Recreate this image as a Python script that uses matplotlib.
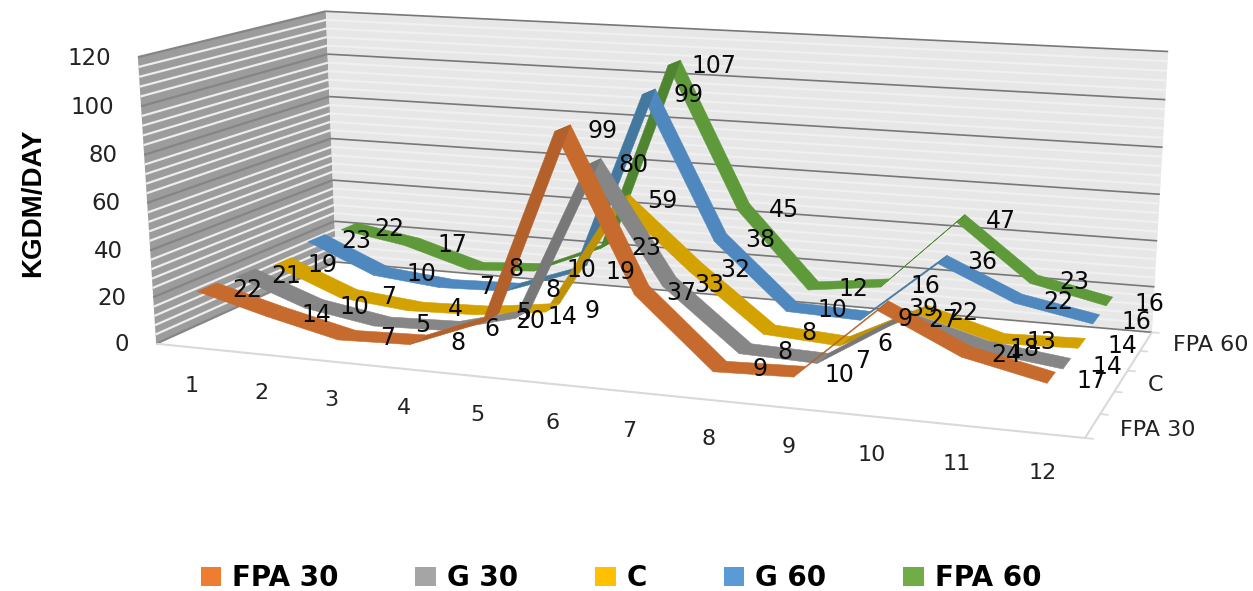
import numpy as np
import matplotlib
matplotlib.use("Agg")
import matplotlib.pyplot as plt
from matplotlib.patches import Patch
from matplotlib.transforms import Affine2D, offset_copy
from mpl_toolkits.mplot3d import Axes3D, proj3d
from mpl_toolkits.mplot3d.art3d import Poly3DCollection, Line3DCollection

months = [str(m) for m in range(1, 13)]
series_names = ["FPA 30", "G 30", "C", "G 60", "FPA 60"]
fpa30 = [22, 14, 7, 8, 20, 99, 37, 9, 10, 39, 24, 17]
g30 = [21, 10, 5, 6, 14, 80, 33, 8, 7, 27, 18, 14]
c_vals = [19, 7, 4, 5, 9, 59, 32, 8, 6, 22, 13, 14]
g60 = [23, 10, 7, 8, 19, 99, 38, 10, 9, 36, 22, 16]
fpa60 = [22, 17, 8, 10, 23, 107, 45, 12, 16, 47, 23, 16]
series_values = [fpa30, g30, c_vals, g60, fpa60]
legend_colors = ["#ED7D31", "#A5A5A5", "#FFC000", "#5B9BD5", "#70AD47"]
ribbon_colors = ["#C66B2D", "#868686", "#D4A200", "#4F88BE", "#5F9A3A"]
rise_colors = ["#B4602A", "#787878", "#BE9208", "#44789F", "#4F8530"]
y_ticks = [0, 20, 40, 60, 80, 100, 120]
depth_labels = {0: "FPA 30", 2: "C", 4: "FPA 60"}

W, H = 1253, 591
N_M, N_S, Z_MAX = 12, 5, 120

# Camera: box corners (month frac, depth frac, value frac) -> image pixels
box = np.array([(0, 0, 0), (1, 0, 0), (0, 1, 0), (1, 1, 0), (0, 1, 1), (1, 1, 1), (0, 0, 1)], float)
img = np.array([(157, 345), (1085, 437), (335, 260), (1152, 334), (327, 12), (1168, 51), (137, 57)], float)
weights = np.ones(len(box))
for _ in range(30):
    rows = []
    for (X, Y, Z), (u, v), k in zip(box, img, weights):
        rows.append(k * np.array([X, Y, Z, 1, 0, 0, 0, 0, -u*X, -u*Y, -u*Z, -u]))
        rows.append(k * np.array([0, 0, 0, 0, X, Y, Z, 1, -v*X, -v*Y, -v*Z, -v]))
    P = np.linalg.svd(np.array(rows))[2][-1].reshape(3, 4)
    weights = 1 / np.abs(P[2, :3] @ box.T + P[2, 3])
    weights = weights / weights.mean()
P = P @ np.diag([1 / N_M, 1 / N_S, 1 / Z_MAX, 1.0])
M = np.array([P[0], P[1], [0, 1, 0, 0.37], P[2]])

fig = plt.figure(figsize=(W / 100, H / 100), dpi=100, facecolor="white")
ax = fig.add_axes([0, 0, 1, 1], projection="3d", computed_zorder=False)
ax.set_axis_off()
ax.apply_aspect = lambda position=None: None
ax.get_proj = lambda: M
ax.transData = Affine2D().scale(1, -1).translate(0, H)


def quad(verts, fc, z, ec="none", lw=0):
    col = Poly3DCollection(verts, facecolors=fc, edgecolors=ec, linewidths=lw, zorder=z)
    col.set_clip_on(False)
    ax.add_collection3d(col, autolim=False)


def line(xs, ys, zs, color, lw, z):
    col = Line3DCollection([list(zip(xs, ys, zs))], colors=color, linewidths=lw, zorder=z)
    col.set_clip_on(False)
    ax.add_collection3d(col, autolim=False)


def label(x, y, z, s, dx, dy, **kw):
    px, py, _ = proj3d.proj_transform(x, y, z, M)
    tr = offset_copy(ax.transData, fig=fig, x=dx, y=dy, units="dots")
    ax.text2D(float(px), float(py), s, transform=tr, zorder=30, clip_on=False, **kw)


# walls and floor
quad([[(0, 0, 0), (0, N_S, 0), (0, N_S, Z_MAX), (0, 0, Z_MAX)]], "#9C9C9C", 1)
quad([[(0, N_S, 0), (N_M, N_S, 0), (N_M, N_S, Z_MAX), (0, N_S, Z_MAX)]], "#E7E7E7", 1)
for v in np.arange(0, Z_MAX + 0.1, 4):
    if v % 20 == 0:
        line([0, 0], [0, N_S], [v, v], "#858585", 1.6, 2)
        line([0, N_M], [N_S, N_S], [v, v], "#777777", 1.2, 3)
    else:
        line([0, 0], [0, N_S], [v, v], "#EDEDED", 1.6, 2)
        line([0, N_M], [N_S, N_S], [v, v], "#F0F0F0", 1.6, 2)

# floor edges and depth ticks
line([0, N_M], [0, 0], [0, 0], "#D9D9D9", 1.5, 4)
line([N_M, N_M], [0, N_S], [0, 0], "#D9D9D9", 1.5, 4)
for d in range(N_S + 1):
    line([N_M, N_M + 0.1], [d, d], [0, 0], "#D9D9D9", 1.2, 4)

# ribbons, back series first
half_depth = 0.25
for s in range(N_S - 1, -1, -1):
    vals = series_values[s]
    verts, fcs = [], []
    for i in range(N_M - 1):
        x0, x1 = i + 0.5, i + 1.5
        d0, d1 = s + 0.5 - half_depth, s + 0.5 + half_depth
        verts.append([(x0, d0, vals[i]), (x1, d0, vals[i + 1]), (x1, d1, vals[i + 1]), (x0, d1, vals[i])])
        fcs.append(rise_colors[s] if vals[i + 1] > vals[i] + 10 else ribbon_colors[s])
    quad(verts, fcs, 10 + (N_S - s), ec=fcs, lw=0.4)

# data labels
for s in range(N_S):
    for i, v in enumerate(series_values[s]):
        label(i + 0.5, s + 0.5, v, str(v), 40, -3, fontsize=17, color="#0A0A0A", ha="center", va="center")

# axis text
for i, m in enumerate(months):
    label(i + 0.5, 0, 0, m, 2, -39, fontsize=16, color="#222222", ha="center", va="center")
for t in y_ticks:
    label(0, 0, t, str(t), -27, -1, fontsize=16.5, color="#222222", ha="right", va="center")
for s, name in depth_labels.items():
    label(N_M, s + 0.5, 0, name, 27, -4, fontsize=16, color="#222222", ha="left", va="center")

fig.text(33 / W, 1 - 203 / H, "KGDM/DAY", rotation=90, ha="center", va="center",
         fontsize=20, fontweight="bold", family="Liberation Sans", color="black")

handles = [Patch(facecolor=c, edgecolor="none", label=n) for c, n in zip(legend_colors, series_names)]
fig.legend(handles=handles, ncol=5, frameon=False, loc="center", bbox_to_anchor=(621 / W, 1 - 578 / H),
           prop={"family": "DejaVu Sans", "weight": "bold", "size": 20},
           handlelength=0.75, handleheight=0.65, handletextpad=0.4, columnspacing=2.75, borderpad=0, borderaxespad=0)

fig.savefig("out.png", dpi=100)
